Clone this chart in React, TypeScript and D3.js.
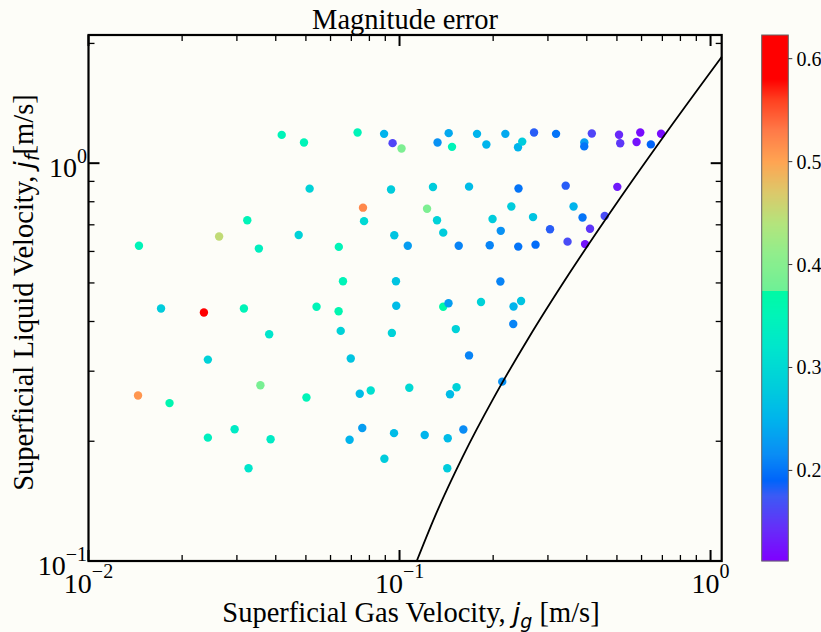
import React from "react";
import * as d3 from "d3";

// Superficial gas velocity j_g [m/s]
const jg = [
  0.0418, 0.0493, 0.0733, 0.0892, 0.095, 0.1015, 0.1439, 0.1325, 0.1475, 0.1775,
  0.1902, 0.2189, 0.2404, 0.248, 0.2707, 0.3186, 0.3928, 0.3925, 0.4152, 0.5078,
  0.5123, 0.5943, 0.5782, 0.6427, 0.6933, 0.0514, 0.0939, 0.1281, 0.1673, 0.2413,
  0.3422, 0.5014, 0.0763, 0.1226, 0.2288, 0.3627, 0.0324, 0.0769, 0.132, 0.1991,
  0.2687, 0.3876, 0.4568, 0.0263, 0.0474, 0.0962, 0.1382, 0.2116, 0.3047, 0.4097,
  0.01453, 0.0353, 0.0638, 0.1063, 0.155, 0.195, 0.2408, 0.2737, 0.3469, 0.3949,
  0.0658, 0.0974, 0.211, 0.01711, 0.0235, 0.0316, 0.0541, 0.0637, 0.0976, 0.1382,
  0.1437, 0.1828, 0.2326, 0.2459, 0.0381, 0.0647, 0.0945, 0.1517, 0.2321, 0.0242,
  0.0697, 0.1673, 0.2139, 0.0357, 0.01443, 0.01822, 0.0502, 0.0745, 0.0808, 0.1075,
  0.1525, 0.1453, 0.0242, 0.0295, 0.0385, 0.0691, 0.0759, 0.096, 0.1205, 0.1429,
  0.1604, 0.0327, 0.0894, 0.1424,
];
// Superficial liquid velocity j_f [m/s]
const jf = [
  1.178, 1.127, 1.194, 1.185, 1.123, 1.089, 1.19, 1.127, 1.099, 1.185,
  1.114, 1.185, 1.097, 1.133, 1.194, 1.185, 1.127, 1.102, 1.187, 1.179,
  1.122, 1.194, 1.13, 1.115, 1.186, 0.863, 0.859, 0.871, 0.873, 0.864,
  0.878, 0.872, 0.773, 0.768, 0.778, 0.778, 0.719, 0.715, 0.719, 0.724,
  0.732, 0.73, 0.737, 0.654, 0.66, 0.659, 0.669, 0.676, 0.682, 0.684,
  0.62, 0.61, 0.616, 0.62, 0.62, 0.622, 0.617, 0.624, 0.635, 0.626,
  0.505, 0.505, 0.504, 0.4313, 0.4215, 0.4313, 0.4356, 0.4244, 0.4383, 0.4356,
  0.4447, 0.4478, 0.4363, 0.4505, 0.3716, 0.3788, 0.3744, 0.3828, 0.3944, 0.3208,
  0.323, 0.3287, 0.2824, 0.2765, 0.2607, 0.2494, 0.2577, 0.2633, 0.2683, 0.2725,
  0.2733, 0.2626, 0.2042, 0.2144, 0.2023, 0.2018, 0.216, 0.2096, 0.2074, 0.2035,
  0.2141, 0.1711, 0.1808, 0.171,
];
// Magnitude error (colour value)
const magErr = [
  0.35, 0.35, 0.35, 0.25, 0.16, 0.39, 0.24, 0.22, 0.35, 0.25,
  0.25, 0.24, 0.25, 0.28, 0.18, 0.2, 0.23, 0.2, 0.16, 0.14,
  0.15, 0.12, 0.125, 0.19, 0.12, 0.29, 0.28, 0.28, 0.26, 0.2,
  0.18, 0.13, 0.52, 0.39, 0.28, 0.25, 0.35, 0.3, 0.29, 0.28,
  0.27, 0.2, 0.165, 0.45, 0.29, 0.27, 0.28, 0.22, 0.18, 0.15,
  0.35, 0.34, 0.35, 0.23, 0.21, 0.21, 0.2, 0.195, 0.165, 0.125,
  0.35, 0.27, 0.21, 0.28, 0.62, 0.35, 0.35, 0.36, 0.26, 0.37,
  0.23, 0.29, 0.25, 0.27, 0.32, 0.29, 0.29, 0.29, 0.21, 0.29,
  0.27, 0.21, 0.22, 0.385, 0.51, 0.36, 0.35, 0.26, 0.31, 0.3,
  0.29, 0.26, 0.34, 0.33, 0.33, 0.25, 0.23, 0.26, 0.25, 0.26,
  0.215, 0.32, 0.28, 0.28,
];

// Transition boundary
const boundaryJg = [0.1136, 0.13, 0.16, 0.2, 0.26, 0.35, 0.5, 0.7, 1.086];
const boundaryJf = [0.1, 0.1295, 0.1835, 0.2555, 0.3635, 0.5255, 0.7955, 1.1555, 1.85];

const xMajorTicks = [0.01, 0.1, 1];
const xMajorLabels = ["\u22122", "\u22121", "0"];
const xMinorTicks = [0.02, 0.03, 0.04, 0.05, 0.06, 0.07, 0.08, 0.09, 0.2, 0.3, 0.4, 0.5, 0.6, 0.7, 0.8, 0.9];
const yMajorTicks = [0.1, 1];
const yMajorLabels = ["\u22121", "0"];
const yMinorTicks = [0.2, 0.3, 0.4, 0.5, 0.6, 0.7, 0.8, 0.9, 2];
const cbTicks = [0.2, 0.3, 0.4, 0.5, 0.6];
const cbDomain = [0.112, 0.623];

const cmapStops = [0.112, 0.145, 0.175, 0.19, 0.215, 0.25, 0.28, 0.32, 0.35, 0.3745, 0.3746, 0.41, 0.44, 0.47, 0.5, 0.53, 0.56, 0.58, 0.623];
const cmapColors = ["#7f00ff", "#6430f8", "#3c5af5", "#0064fa", "#0a8cf5", "#00b4ec", "#00ccdc", "#00e6cc", "#00f4b8", "#00faa4", "#6ef096", "#90ee8c", "#b4e47c", "#dcc86a", "#ffa452", "#ff7a48", "#ff4020", "#ff0000", "#ff0000"];

const BG = "#fdfdf8";
const SERIF = "'Liberation Serif', 'Times New Roman', serif";
const MATH = "'DejaVu Sans', sans-serif";

export default function App() {
  const W = 821, H = 632;
  const L = 88.5, R = 721.7, T = 35, B = 561;
  const x = d3.scaleLog().domain([0.01, 1.086]).range([L, R]);
  const y = d3.scaleLog().domain([0.1, 2.1]).range([B, T]);
  const color = d3.scaleLinear<string>().domain(cmapStops).range(cmapColors).interpolate(d3.interpolateRgb).clamp(true);

  const cbL = 761.7, cbR = 788.3;
  const cy = d3.scaleLinear().domain(cbDomain).range([B, T]);

  const linePath = d3.line<number>()
    .x((_, i) => x(boundaryJg[i]))
    .y((_, i) => y(boundaryJf[i]))
    .curve(d3.curveMonotoneX)(boundaryJg) || "";

  const cbRows = d3.range(Math.floor(T), Math.ceil(B));

  const majLen = 11, minLen = 6;

  return (
    <>
      <style>{`body{margin:0;background:${BG};}`}</style>
      <svg width={W} height={H} style={{ display: "block", background: BG }}>
        <rect x={0} y={0} width={W} height={H} fill={BG} />
        <text x={(L + R) / 2} y={29.3} textAnchor="middle" fontFamily={SERIF} fontSize={28.5} fill="#000">
          Magnitude error
        </text>

        {/* points */}
        {jg.map((v, i) => (
          <circle key={i} cx={x(v)} cy={y(jf[i])} r={4.2} fill={color(magErr[i])} />
        ))}

        {/* boundary */}
        <path d={linePath} fill="none" stroke="#000" strokeWidth={1.8} />

        {/* minor ticks */}
        {xMinorTicks.map((t) => (
          <g key={"xm" + t} stroke="#000" strokeWidth={1.3}>
            <line x1={x(t)} x2={x(t)} y1={B} y2={B - minLen} />
            <line x1={x(t)} x2={x(t)} y1={T} y2={T + minLen} />
          </g>
        ))}
        {yMinorTicks.map((t) => (
          <g key={"ym" + t} stroke="#000" strokeWidth={1.3}>
            <line x1={L} x2={L + minLen} y1={y(t)} y2={y(t)} />
            <line x1={R} x2={R - minLen} y1={y(t)} y2={y(t)} />
          </g>
        ))}
        {/* major ticks */}
        {xMajorTicks.map((t) => (
          <g key={"xM" + t} stroke="#000" strokeWidth={2}>
            <line x1={x(t)} x2={x(t)} y1={B} y2={B - majLen} />
            <line x1={x(t)} x2={x(t)} y1={T} y2={T + majLen} />
          </g>
        ))}
        {yMajorTicks.map((t) => (
          <g key={"yM" + t} stroke="#000" strokeWidth={2}>
            <line x1={L} x2={L + majLen} y1={y(t)} y2={y(t)} />
            <line x1={R} x2={R - majLen} y1={y(t)} y2={y(t)} />
          </g>
        ))}

        {/* frame */}
        <rect x={L} y={T} width={R - L} height={B - T} fill="none" stroke="#000" strokeWidth={2.2} />

        {/* x tick labels */}
        {xMajorTicks.map((t, i) => (
          <text key={"xl" + t} x={x(t)} y={593} textAnchor="middle" fontFamily={SERIF} fontSize={28} fill="#000">
            10<tspan fontSize={20} dy={-15.5}>{xMajorLabels[i]}</tspan>
          </text>
        ))}
        {/* y tick labels */}
        {yMajorTicks.map((t, i) => (
          <text key={"yl" + t} x={87} y={y(t) + 14} textAnchor="end" fontFamily={SERIF} fontSize={28} fill="#000">
            10<tspan fontSize={20} dy={-14}>{yMajorLabels[i]}</tspan>
          </text>
        ))}

        {/* axis labels */}
        <text x={411} y={621.7} textAnchor="middle" fontFamily={SERIF} fontSize={28.5} fill="#000">
          Superficial Gas Velocity,{" "}
          <tspan fontFamily={MATH} fontStyle="italic" fontSize={27}>j</tspan>
          <tspan fontFamily={MATH} fontStyle="italic" fontSize={19} dy={6}>g</tspan>
          <tspan dy={-6}> [m/s]</tspan>
        </text>
        <text transform={`translate(33,292.5) rotate(-90)`} textAnchor="middle" fontFamily={SERIF} fontSize={28.5} fill="#000">
          Superficial Liquid Velocity,{" "}
          <tspan fontFamily={MATH} fontStyle="italic" fontSize={27}>j</tspan>
          <tspan fontFamily={MATH} fontStyle="italic" fontSize={19} dy={6}>f</tspan>
          <tspan dy={-6}>[m/s]</tspan>
        </text>

        {/* colorbar */}
        {cbRows.map((r) => (
          <rect key={"cb" + r} x={cbL} y={r} width={cbR - cbL} height={1.2} fill={color(cy.invert(r + 0.5))} />
        ))}
        <rect x={cbL} y={T} width={cbR - cbL} height={B - T} fill="none" stroke="#666" strokeWidth={1} />
        {cbTicks.map((t) => (
          <g key={"cbt" + t}>
            <line x1={cbR} x2={cbR + 4} y1={cy(t)} y2={cy(t)} stroke="#333" strokeWidth={1} />
            <text x={796.5} y={cy(t) + 7} fontFamily={SERIF} fontSize={20} fill="#000">
              {t.toFixed(1)}
            </text>
          </g>
        ))}
      </svg>
    </>
  );
}
